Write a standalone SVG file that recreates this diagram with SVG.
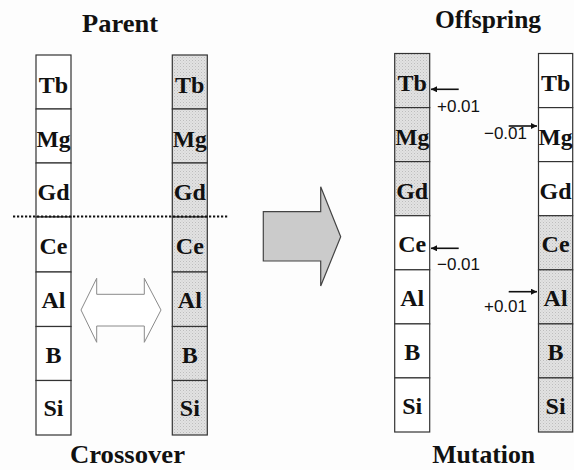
<svg xmlns="http://www.w3.org/2000/svg" width="574" height="470" viewBox="0 0 574 470">
<defs>
<pattern id="dots" width="3" height="3" patternUnits="userSpaceOnUse">
<rect width="3" height="3" fill="#e2e2e2"/>
<rect x="0" y="0" width="1" height="1" fill="#bdbdbd"/>
<rect x="1.5" y="1.5" width="1" height="1" fill="#cccccc"/>
</pattern>
<marker id="ah" viewBox="0 0 10 10" refX="10" refY="5" markerWidth="8" markerHeight="6" markerUnits="userSpaceOnUse" orient="auto">
<path d="M0,0 L10,5 L0,10 z" fill="#111"/>
</marker>
<style>
.title{font-family:"Liberation Serif","Times New Roman",Times,serif;font-weight:700;font-size:26px;fill:#111;text-anchor:middle}
.lbl{font-family:"Liberation Serif","Times New Roman",Times,serif;font-weight:700;font-size:24px;fill:#111;text-anchor:middle}
.num{font-family:"Liberation Sans",Arial,sans-serif;font-size:17px;fill:#111}
.w{fill:#fff;stroke:#333;stroke-width:1.2}
.g{fill:url(#dots);stroke:#333;stroke-width:1.2}
.mut{stroke:#111;stroke-width:1.6;marker-end:url(#ah)}
</style>
</defs>
<rect width="574" height="470" fill="#fdfdfd"/>

<text class="title" x="120" y="31.5" textLength="76" lengthAdjust="spacingAndGlyphs">Parent</text>
<text class="title" x="488" y="27.5" textLength="106" lengthAdjust="spacingAndGlyphs">Offspring</text>
<text class="title" x="127.5" y="463" textLength="115" lengthAdjust="spacingAndGlyphs">Crossover</text>
<text class="title" x="483.7" y="463" textLength="103" lengthAdjust="spacingAndGlyphs">Mutation</text>

<g id="parent1">
<rect class="w" x="36" y="55" width="35" height="54"/>
<rect class="w" x="36" y="109" width="35" height="54"/>
<rect class="w" x="36" y="163" width="35" height="54"/>
<rect class="w" x="36" y="217" width="35" height="55"/>
<rect class="w" x="36" y="272" width="35" height="54.5"/>
<rect class="w" x="36" y="326.5" width="35" height="54"/>
<rect class="w" x="36" y="380.5" width="35" height="54.5"/>
<text class="lbl" x="53.5" y="92.5">Tb</text>
<text class="lbl" x="53.5" y="146.5" textLength="34" lengthAdjust="spacingAndGlyphs">Mg</text>
<text class="lbl" x="53.5" y="200">Gd</text>
<text class="lbl" x="53.5" y="253.5">Ce</text>
<text class="lbl" x="53.5" y="308.3">Al</text>
<text class="lbl" x="53.5" y="362.7">B</text>
<text class="lbl" x="53.5" y="416">Si</text>
</g>

<g id="parent2">
<rect class="g" x="172.3" y="55" width="35" height="54"/>
<rect class="g" x="172.3" y="109" width="35" height="54"/>
<rect class="g" x="172.3" y="163" width="35" height="54"/>
<rect class="g" x="172.3" y="217" width="35" height="55"/>
<rect class="g" x="172.3" y="272" width="35" height="54.5"/>
<rect class="g" x="172.3" y="326.5" width="35" height="54"/>
<rect class="g" x="172.3" y="380.5" width="35" height="54.5"/>
<text class="lbl" x="189.8" y="92.5">Tb</text>
<text class="lbl" x="189.8" y="146.5" textLength="34" lengthAdjust="spacingAndGlyphs">Mg</text>
<text class="lbl" x="189.8" y="200">Gd</text>
<text class="lbl" x="189.8" y="253.5">Ce</text>
<text class="lbl" x="189.8" y="308.3">Al</text>
<text class="lbl" x="189.8" y="362.7">B</text>
<text class="lbl" x="189.8" y="416">Si</text>
</g>

<g id="offspring1">
<rect class="g" x="394.7" y="53.5" width="35" height="54.1"/>
<rect class="g" x="394.7" y="107.6" width="35" height="54"/>
<rect class="g" x="394.7" y="161.6" width="35" height="54.1"/>
<rect class="w" x="394.7" y="215.7" width="35" height="54.1"/>
<rect class="w" x="394.7" y="269.8" width="35" height="54.1"/>
<rect class="w" x="394.7" y="323.9" width="35" height="54"/>
<rect class="w" x="394.7" y="377.9" width="35" height="54.1"/>
<text class="lbl" x="412.2" y="91">Tb</text>
<text class="lbl" x="412.2" y="145" textLength="34" lengthAdjust="spacingAndGlyphs">Mg</text>
<text class="lbl" x="412.2" y="199">Gd</text>
<text class="lbl" x="412.2" y="251.5">Ce</text>
<text class="lbl" x="412.2" y="305.5">Al</text>
<text class="lbl" x="412.2" y="359.5">B</text>
<text class="lbl" x="412.2" y="413.5">Si</text>
</g>

<g id="offspring2">
<rect class="w" x="538.5" y="53.5" width="34.2" height="54.1"/>
<rect class="w" x="538.5" y="107.6" width="34.2" height="54"/>
<rect class="w" x="538.5" y="161.6" width="34.2" height="54.1"/>
<rect class="g" x="538.5" y="215.7" width="34.2" height="54.1"/>
<rect class="g" x="538.5" y="269.8" width="34.2" height="54.1"/>
<rect class="g" x="538.5" y="323.9" width="34.2" height="54"/>
<rect class="g" x="538.5" y="377.9" width="34.2" height="54.1"/>
<text class="lbl" x="555.6" y="91">Tb</text>
<text class="lbl" x="555.6" y="145" textLength="34" lengthAdjust="spacingAndGlyphs">Mg</text>
<text class="lbl" x="555.6" y="199">Gd</text>
<text class="lbl" x="555.6" y="251.5">Ce</text>
<text class="lbl" x="555.6" y="305.5">Al</text>
<text class="lbl" x="555.6" y="359.5">B</text>
<text class="lbl" x="555.6" y="413.5">Si</text>
</g>

<g id="connectors">
<line x1="13" y1="216.5" x2="229" y2="216.5" stroke="#111" stroke-width="2.2" stroke-dasharray="2.2 1.8"/>
<polygon id="swap" points="81,310 96.7,278.3 96.7,294.3 144.3,294.3 144.3,278.3 161,310 144.3,342.3 144.3,326 96.7,326 96.7,342.3" fill="#fff" stroke="#8a8a8a" stroke-width="1"/>
<polygon id="bigarrow" points="263.3,211.7 320.7,211.7 320.7,186.7 340.7,236.7 320.7,286 320.7,261 263.3,261" fill="#cbcbcb" stroke="#444" stroke-width="1.2"/>
<line class="mut" x1="458.7" y1="89.3" x2="431" y2="89.3"/>
<line class="mut" x1="508.7" y1="126" x2="537" y2="126"/>
<line class="mut" x1="458.7" y1="248.3" x2="431" y2="248.3"/>
<line class="mut" x1="508.7" y1="291.7" x2="537" y2="291.7"/>
</g>

<text class="num" x="437" y="111.7">+0.01</text>
<text class="num" x="527" y="139.3" text-anchor="end">−0.01</text>
<text class="num" x="437" y="269.5">−0.01</text>
<text class="num" x="527" y="312.3" text-anchor="end">+0.01</text>
</svg>
